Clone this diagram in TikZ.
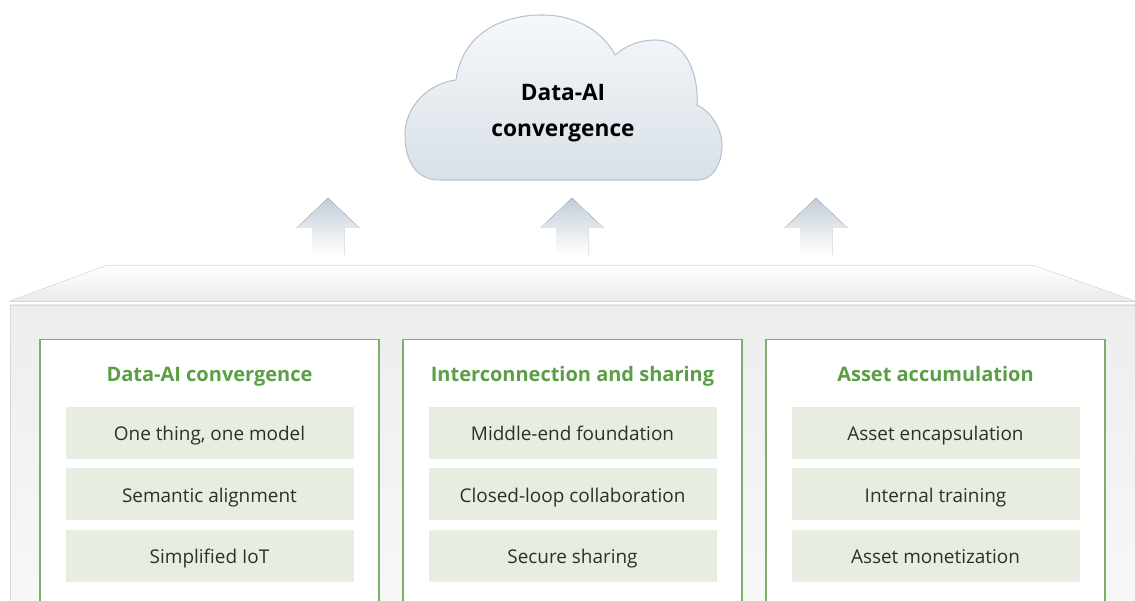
\documentclass[tikz,border=0pt]{standalone}
\usepackage{fontspec}
\setmainfont{Open Sans}
\usetikzlibrary{positioning}
\definecolor{hwgreen}{HTML}{5A9E46}
\definecolor{boxline}{HTML}{7AB068}
\definecolor{itemfill}{HTML}{E7EDE0}
\definecolor{cloudline}{HTML}{B7C5D3}
\definecolor{cloudtop}{HTML}{F6F8FA}
\definecolor{cloudbottom}{HTML}{D8E0E8}
\definecolor{arrowtop}{HTML}{C2CDD9}
\definecolor{itemtext}{HTML}{2E2E2E}
\tikzset{
  column/.style={draw=boxline, line width=1.1pt, fill=white, minimum width=254pt, minimum height=215pt, anchor=north},
  coltitle/.style={text=hwgreen, text height=14pt, text depth=3pt, font=\bfseries\fontsize{15}{17}\selectfont},
  item/.style={fill=itemfill, minimum width=216pt, minimum height=39pt, text=itemtext, text height=14.5pt, text depth=3pt, font=\fontsize{14.2}{16}\selectfont},
}

\begin{document}
\begin{tikzpicture}[x=0.75pt, y=0.75pt, node distance=6.5pt]
\clip (0,0) rectangle (1135,600);

% cloud
\filldraw[draw=cloudline, line width=0.8pt, top color=cloudtop, bottom color=cloudbottom]
  (440,420) .. controls (412,420) and (405,445) .. (405,465)
  .. controls (405,495) and (430,517) .. (456,520)
  .. controls (462,565) and (500,585) .. (542,585)
  .. controls (580,585) and (605,565) .. (615,545)
  .. controls (628,556) and (642,560) .. (656,560)
  .. controls (686,560) and (699,525) .. (697,495)
  .. controls (712,488) and (722,470) .. (722,455)
  .. controls (722,435) and (712,421) .. (700,420) -- cycle;
\node (cloud) at (563,487) [align=center, font=\bfseries\fontsize{17}{26.5}\selectfont] {Data-AI\\convergence};

% upward arrows
\foreach \x in {328,572,816}
  \fill[top color=arrowtop, bottom color=white]
    (\x,402) -- (\x+31.5,372) -- (\x+16,372) -- (\x+16,345)
    -- (\x-16,345) -- (\x-16,372) -- (\x-31.5,372) -- cycle;

% platform
\fill[top color=white, bottom color=black!8] (10,299) -- (105,334) -- (1035,334) -- (1135,299) -- cycle;
\draw[black!9] (10,299) -- (105,334);
\draw[black!9] (1135,299) -- (1035,334);
\draw[black!17] (10,299) -- (1135,299);
\fill[top color=black!7, bottom color=black!3] (10,0) rectangle (1135,295);
\draw[black!15] (10,0) -- (10,295) -- (1135,295);

% columns
\node (dataai) at (209.5,261) [column] {};
\node (share) at (572.5,261) [column] {};
\node (asset) at (935.5,261) [column] {};

\node (dataaiT) at ([yshift=-26.25pt]dataai.north) [coltitle] {Data-AI convergence};
\node (shareT) at ([yshift=-26.25pt]share.north) [coltitle] {Interconnection and sharing};
\node (assetT) at ([yshift=-26.25pt]asset.north) [coltitle] {Asset accumulation};

\node (dataaiA) [item, below=51pt of dataai.north] {One thing, one model};
\node (dataaiB) [item, below=of dataaiA] {Semantic alignment};
\node (dataaiC) [item, below=of dataaiB] {Simplified IoT};

\node (shareA) [item, below=51pt of share.north] {Middle-end foundation};
\node (shareB) [item, below=of shareA] {Closed-loop collaboration};
\node (shareC) [item, below=of shareB] {Secure sharing};

\node (assetA) [item, below=51pt of asset.north] {Asset encapsulation};
\node (assetB) [item, below=of assetA] {Internal training};
\node (assetC) [item, below=of assetB] {Asset monetization};
\end{tikzpicture}
\end{document}
